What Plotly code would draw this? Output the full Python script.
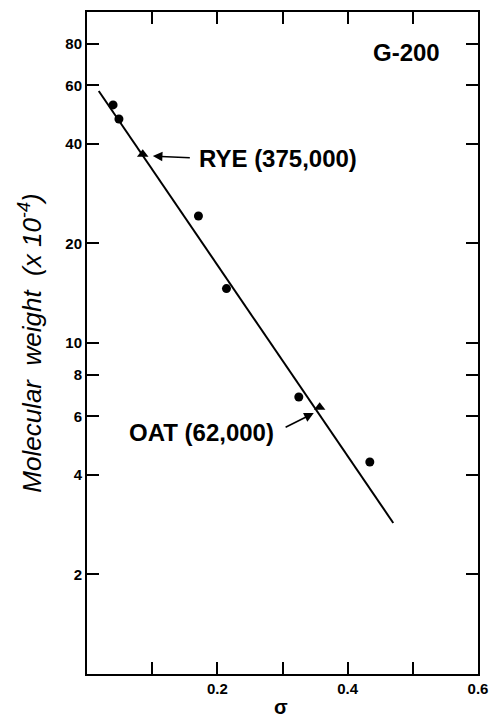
import numpy as np
import plotly.graph_objects as go

# Data
circle_sigma = [0.040, 0.049, 0.171, 0.214, 0.325, 0.434]
circle_mw = [52.4, 47.5, 24.2, 14.6, 6.87, 4.37]

tri_sigma = [0.0855, 0.357]
tri_mw = [37.2, 6.4]
tri_names = ["RYE (375,000)", "OAT (62,000)"]

fit_sigma = [0.018, 0.470]
fit_mw = [57.7, 2.86]

x_tickvals = [0.2, 0.4, 0.6]
x_ticktext = ["0.2", "0.4", "0.6"]
y_tickvals = [2, 4, 6, 8, 10, 20, 40, 60, 80]
y_ticktext = ["2", "4", "6", "8", "10", "20", "40", "60", "80"]

FONT = "Liberation Sans"
NB = "\u00a0"

fig = go.Figure()
fig.add_trace(go.Scatter(x=fit_sigma, y=fit_mw, mode="lines",
                         line=dict(color="black", width=2), showlegend=False))
fig.add_trace(go.Scatter(x=circle_sigma, y=circle_mw, mode="markers",
                         marker=dict(symbol="circle", size=9, color="black"),
                         showlegend=False))
fig.add_trace(go.Scatter(x=tri_sigma, y=tri_mw, mode="markers",
                         marker=dict(symbol="triangle-up", size=10, color="black"),
                         showlegend=False))

axis_common = dict(showline=True, linecolor="black", linewidth=2, mirror="ticks",
                   ticks="inside", ticklen=12, tickwidth=1.5, tickcolor="black",
                   showgrid=False, zeroline=False, automargin=False,
                   tickfont=dict(family=FONT, size=15, color="black", weight="bold"))

fig.update_xaxes(range=[0, 0.6], tickmode="array", tickvals=x_tickvals,
                 ticktext=x_ticktext,
                 minor=dict(ticks="inside", tick0=0, dtick=0.1, ticklen=12,
                            tickwidth=1.5, tickcolor="black", showgrid=False),
                 **axis_common)
fig.update_yaxes(type="log", range=[0, 2], tickmode="array", tickvals=y_tickvals,
                 ticktext=y_ticktext,
                 title=dict(text=f"<i>Molecular{NB}{NB}weight{NB}{NB}(x{NB}10<sup>-4</sup>)</i>",
                            standoff=16,
                            font=dict(family=FONT, size=26, color="black")),
                 **axis_common)

label_font = dict(family=FONT, size=24, color="black", weight="bold")

annotations = [
    # RYE label with arrow pointing to its triangle
    dict(x=0.101, y=np.log10(36.7), xref="x", yref="y", text=tri_names[0],
         showarrow=True, ax=44, ay=2, axref="pixel", ayref="pixel",
         xanchor="left", yanchor="middle", startstandoff=7,
         arrowhead=2, arrowsize=1.2, arrowwidth=1.6, arrowcolor="black",
         font=label_font),
    # OAT label with arrow pointing to its triangle
    dict(x=0.348, y=np.log10(6.14), xref="x", yref="y", text=tri_names[1],
         showarrow=True, ax=-38, ay=19, axref="pixel", ayref="pixel",
         xanchor="right", yanchor="middle", startstandoff=11,
         arrowhead=2, arrowsize=1.2, arrowwidth=1.6, arrowcolor="black",
         font=label_font),
    dict(x=0.545, y=np.log10(75.2), xref="x", yref="y", text="G-200",
         showarrow=False, xanchor="right", yanchor="middle",
         font=label_font),
    # x axis title
    dict(x=0.497, y=(674 - 707) / 662, xref="paper", yref="paper", text="<b>σ</b>",
         showarrow=False, xanchor="center", yanchor="middle",
         font=dict(family=FONT, size=20, color="black")),
]

fig.update_layout(width=494, height=720, margin=dict(l=87, r=16, t=12, b=46),
                  plot_bgcolor="white", paper_bgcolor="white",
                  annotations=annotations)

fig.write_html("out.html", config={"displayModeBar": False},
               post_script="document.body.style.margin='0';")
